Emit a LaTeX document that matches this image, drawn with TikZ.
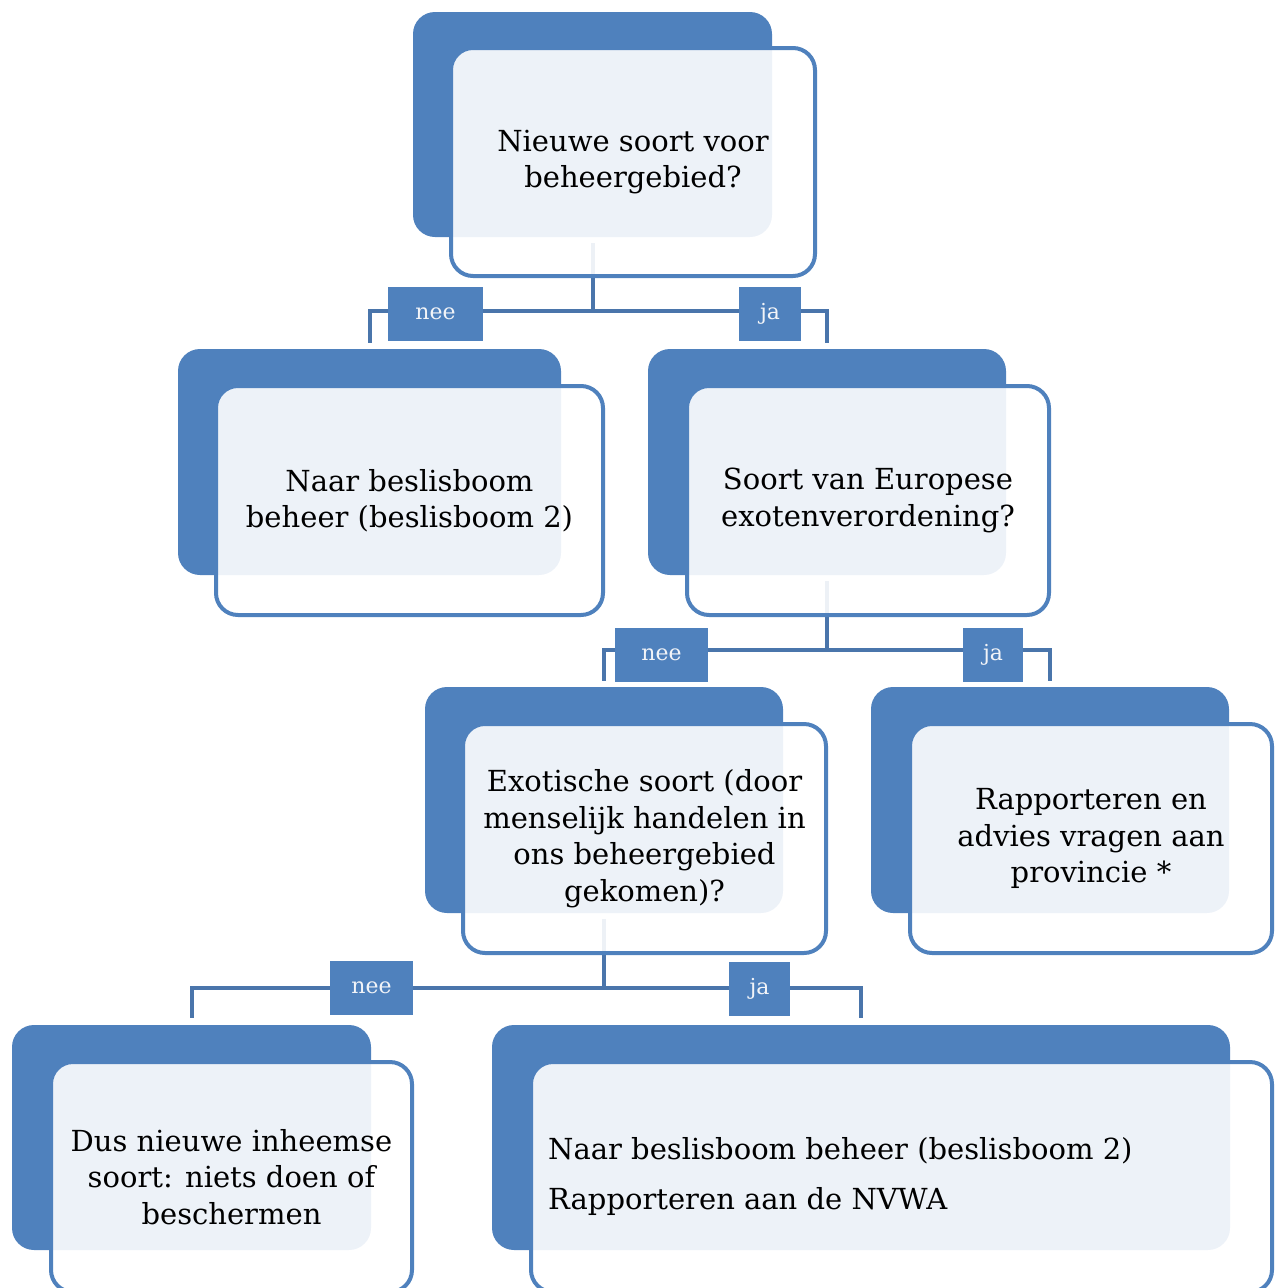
\documentclass[tikz,border=0pt]{standalone}
\usepackage{fontspec}
\setmainfont{DejaVu Serif}
\definecolor{boxblue}{HTML}{4F81BD}
\definecolor{linkblue}{HTML}{4A75AB}
\definecolor{labtext}{HTML}{F2F4F8}
\tikzset{
  backbox/.style={fill=boxblue, rounded corners=22pt, inner sep=0pt},
  frontbox/.style={draw=boxblue, line width=4pt, fill=white, fill opacity=0.9, text opacity=1,
    rounded corners=22pt, inner sep=0pt, align=center, font=\fontsize{29}{36.5}\selectfont},
  conn/.style={draw=linkblue, line width=4pt},
  lab/.style={fill=boxblue, text=labtext, inner sep=0pt, minimum height=54pt,
    font=\fontsize{22}{26}\selectfont},
}
\begin{document}
\begin{tikzpicture}[x=1pt,y=-1pt]
\useasboundingbox (0,0) rectangle (1286,1288);
% back boxes
\node[backbox, minimum width=359pt, minimum height=225pt] (b1) at (592.5,124.5) {};
\node[backbox, minimum width=383pt, minimum height=226pt] (b2) at (369.5,462) {};
\node[backbox, minimum width=358pt, minimum height=226pt] (b3) at (827,462) {};
\node[backbox, minimum width=358pt, minimum height=226pt] (b4) at (604,800) {};
\node[backbox, minimum width=358pt, minimum height=226pt] (b5) at (1050,800) {};
\node[backbox, minimum width=359pt, minimum height=225pt] (b6) at (191.5,1137.5) {};
\node[backbox, minimum width=738pt, minimum height=225pt] (b7) at (861,1137.5) {};
% connectors
\coordinate (j1) at ([yshift=-74pt]b1.south);
\coordinate (j2) at ([yshift=-75pt]b3.south);
\coordinate (j3) at ([yshift=-75pt]b4.south);
\draw[conn] ([yshift=-6pt]b1.south) -- (j1);
\draw[conn] ([yshift=6pt]b2.north) |- (j1) -| ([yshift=6pt]b3.north);
\draw[conn] ([yshift=-6pt]b3.south) -- (j2);
\draw[conn] ([yshift=6pt]b4.north) |- (j2) -| ([yshift=6pt]b5.north);
\draw[conn] ([yshift=-6pt]b4.south) -- (j3);
\draw[conn] ([yshift=7pt]b6.north) |- (j3) -| ([yshift=7pt]b7.north);
% front boxes
\node[frontbox, minimum width=364pt, minimum height=228pt] (f1) at (633,162) {Nieuwe soort voor\\beheergebied?};
\node[frontbox, minimum width=387pt, minimum height=229pt] (f2) at (409.5,500.5) {Naar beslisboom\\beheer (beslisboom 2)};
\node[frontbox, minimum width=362pt, minimum height=229pt] (f3) at (868,500.5) {Soort van Europese\\exotenverordening?};
\node[frontbox, minimum width=363pt, minimum height=229pt] (f4) at (644.5,838.5) {Exotische soort (door\\menselijk handelen in\\ons beheergebied\\gekomen)?};
\node[frontbox, minimum width=362pt, minimum height=229pt] (f5) at (1091,838.5) {Rapporteren en\\advies vragen aan\\provincie *};
\node[frontbox, minimum width=361pt, minimum height=230pt] (f6) at (231.5,1177) {Dus nieuwe inheemse\\soort: niets doen of\\beschermen};
\node[frontbox, minimum width=741pt, minimum height=230pt] (f7) at (901.5,1177) {};
\node[anchor=west, align=left, inner sep=0pt, font=\fontsize{29}{36.5}\selectfont] (t7) at (548,1176)
  {Naar beslisboom beheer (beslisboom 2)\\[13.5pt]Rapporteren aan de NVWA};
% labels
\node[lab, minimum width=95pt] (l1n) at (435.5,314) {nee};
\node[lab, minimum width=62pt] (l1j) at (770,314) {ja};
\node[lab, minimum width=93pt] (l2n) at (661.5,655) {nee};
\node[lab, minimum width=60pt] (l2j) at (993,655) {ja};
\node[lab, minimum width=83pt] (l3n) at (371.5,988) {nee};
\node[lab, minimum width=61pt] (l3j) at (759.5,989) {ja};
\end{tikzpicture}
\end{document}
